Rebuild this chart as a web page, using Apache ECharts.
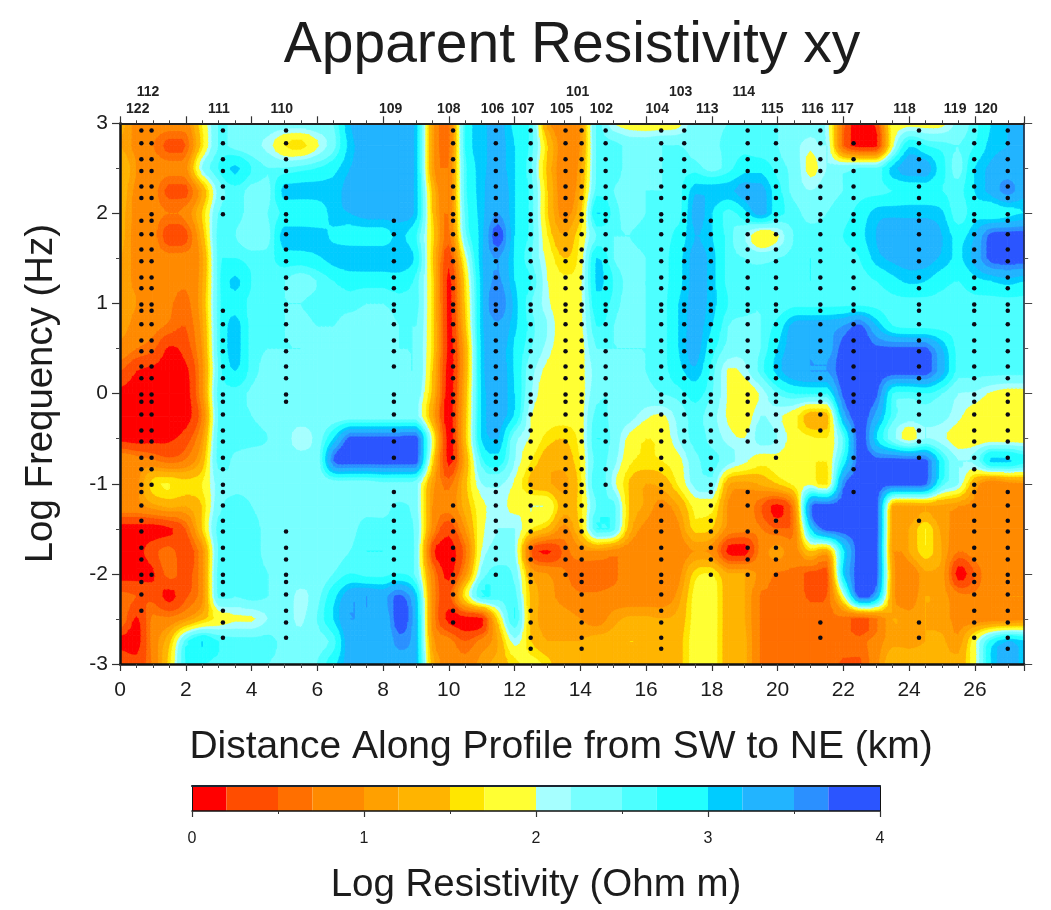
<!DOCTYPE html>
<html>
<head>
<meta charset="utf-8">
<style>html,body{margin:0;padding:0;background:#fff}#c{width:1051px;height:910px}</style>
<script src="https://cdn.jsdelivr.net/npm/echarts@6/dist/echarts.min.js"></script>
</head>
<body>
<div id="c"></div>
<script>
const chartTitle = 'Apparent Resistivity xy';
const xAxisTitle = 'Distance Along Profile from SW to NE (km)';
const yAxisTitle = 'Log Frequency (Hz)';
const barTitle = 'Log Resistivity (Ohm m)';

const kmGrid = [0,.5,1,1.5,2,2.5,3,3.5,4,4.5,5,5.5,6,6.5,7,7.5,8,8.5,9,9.5,10,10.5,11,11.5,12,12.5,13,13.5,14,14.5,15,15.5,16,16.5,17,17.5,18,18.5,19,19.5,20,20.5,21,21.5,22,22.5,23,23.5,24,24.5,25,25.5,26,26.5,27,27.5];
const freqGrid = [3,2.75,2.5,2.25,2,1.75,1.5,1.25,1,.75,.5,.25,0,-.25,-.5,-.75,-1,-1.25,-1.5,-1.75,-2,-2.25,-2.5,-2.75,-3];

const rowP300 = [1.3,.9,.9,.85,.85,1.7,2.5,2.5,2.4,2.4, 2.35,2.35,2.4,2.5,3.2,3.3,3.3,3.3,3.1,1.1, .6,2.7,3.1,3.3,2.9,2.6,1.1,.9,1.0,2.5, 2.0,1.85,1.8,1.8,1.9,2.4,2.4,2.5,2.5,2.5, 2.5,2.5,2.4,2.1,.6,.05,.3,1.85,1.85,1.85, 1.9,2.3,2.6,3.0,3.2,3.3];
const rowP275 = [1.2,.9,.7,.4,.5,1.6,2.5,2.4,2.3,2.1, 1.7,1.6,1.95,2.4,3.1,3.3,3.3,3.3,3.1,1.1, .6,2.7,3.1,3.3,3.0,2.6,1.5,.8,1.0,2.5, 2.6,2.4,2.4,2.5,2.5,2.4,2.4,2.6,2.6,2.5, 2.5,2.3,2.05,2.2,.5,.05,.1,1.9,2.95,2.7, 2.6,2.5,2.7,3.1,3.2,3.2];
const rowP250 = [1.5,1.0,.9,.8,.9,2.2,2.7,3.05,2.7,2.5, 2.5,2.6,2.7,2.9,3.2,3.3,3.3,3.3,3.1,1.1, .7,2.6,3.1,3.3,3.0,2.5,1.4,.8,1.1,2.5, 2.6,2.4,2.4,2.5,2.6,2.6,2.4,2.6,2.9,2.9, 2.6,2.4,1.9,2.2,2.4,2.5,2.5,3.1,3.35,3.35, 2.8,2.4,3.0,3.25,3.3,3.25];
const rowP225 = [1.4,.9,.8,.4,.4,1.2,2.3,2.6,2.4,2.4, 3.1,3.1,3.1,3.1,3.3,3.3,3.3,3.3,3.1,1.4, .7,2.6,3.1,3.45,3.0,2.6,1.5,.8,1.2,2.6, 2.5,2.4,2.5,2.5,2.6,3.15,3.15,3.15,3.3,3.3, 2.8,2.4,2.2,2.4,2.5,2.6,2.6,2.7,2.8,2.8, 2.7,2.6,3.0,3.3,3.6,3.3];
const rowP200 = [1.3,.9,.8,.7,.8,1.5,2.5,2.6,2.4,2.5, 2.75,2.75,2.8,3.1,3.2,3.3,3.3,3.3,3.1,1.5, .7,2.5,3.1,3.5,3.0,2.6,1.5,.9,1.4,3.0, 2.6,2.4,2.5,2.6,2.6,3.3,3.0,2.6,2.9,3.3, 2.8,2.6,2.4,2.5,2.6,2.8,3.1,3.15,3.15,3.15, 3.05,2.5,2.9,2.8,2.9,3.0];
const rowP175 = [1.3,.85,.8,.3,.4,1.3,2.6,2.5,2.3,2.4, 3.15,3.15,3.1,2.95,2.85,2.85,2.85,3.05,2.7,1.6, .6,2.4,3.1,3.85,3.0,2.6,1.7,1.2,1.7,2.5, 2.5,2.5,2.6,2.6,2.8,3.2,3.0,2.6,2.2,1.7, 1.95,2.5,2.6,2.6,2.7,2.9,3.2,3.3,3.3,3.3, 3.2,2.9,3.2,3.8,3.85,3.85];
const rowP150 = [1.2,.9,.85,.8,.8,1.1,2.6,2.7,2.6,2.6, 2.85,2.85,2.95,3.1,3.19,3.19,3.19,3.19,2.9,1.5, .3,1.9,3.15,3.5,2.95,2.5,1.9,1.5,1.8,3.0, 2.5,2.4,2.5,2.6,2.9,3.3,3.1,2.6,2.5,2.4, 2.5,2.6,2.7,2.6,2.6,2.7,3.1,3.25,3.3,3.3, 3.15,2.95,3.3,3.8,3.85,3.85];
const rowP125 = [1.1,.95,.9,.85,.75,1.15,2.6,3.05,2.7,2.6, 2.5,2.35,2.5,2.7,2.8,2.8,2.8,2.85,2.6,1.6, .1,1.6,3.1,3.55,3.0,2.7,2.0,1.75,1.9,3.05, 2.7,2.4,2.5,2.6,2.9,3.3,3.1,2.6,2.5,2.6, 2.6,2.6,2.7,2.6,2.6,2.6,2.7,2.9,3.05,3.0, 2.8,2.7,2.9,3.0,3.1,3.0];
const rowP100 = [1.1,1.0,.95,.75,.6,1.2,2.6,2.9,2.6,2.5, 2.5,2.5,2.6,2.6,2.6,2.5,2.5,2.6,2.6,1.6, .1,1.5,3.1,3.7,3.1,2.5,2.05,1.8,1.9,2.9, 2.6,2.4,2.5,2.6,3.0,3.3,3.1,2.7,2.6,2.5, 2.5,2.6,2.6,2.6,2.6,2.6,2.6,2.6,2.6,2.6, 2.6,2.6,2.6,2.6,2.6,2.6];
const rowP075 = [1.1,.9,.8,.65,.5,1.1,2.6,3.1,2.6,2.5, 2.5,2.4,2.5,2.5,2.35,2.35,2.4,2.5,2.5,1.6, .1,1.4,3.1,3.45,3.05,2.6,2.2,1.8,1.9,2.7, 2.5,2.4,2.5,2.6,3.0,3.3,3.0,2.5,2.4,2.5, 2.8,3.3,3.35,3.35,3.5,3.75,3.2,2.7,2.6,2.6, 2.6,2.6,2.6,2.6,2.6,2.6];
const rowP050 = [.9,.7,.55,.15,.35,1.0,2.6,3.1,2.6,2.5, 2.5,2.5,2.4,2.35,2.3,2.3,2.4,2.5,2.45,1.6, .1,1.2,3.05,3.35,2.95,2.5,2.1,1.8,1.85,2.5, 2.5,2.5,2.5,2.6,3.0,3.3,2.8,2.4,2.3,2.5, 3.0,3.35,3.4,3.35,3.8,3.85,3.75,3.75,3.75,3.75, 3.2,2.6,2.6,2.6,2.6,2.6];
const rowP025 = [.5,.2,.1,.05,.1,.9,2.5,3.0,2.6,2.4, 2.3,2.4,2.3,2.3,2.3,2.3,2.3,2.3,2.5,1.5, .05,1.2,3.05,3.35,2.95,2.3,1.9,1.8,1.9,2.3, 2.45,2.4,2.5,2.6,2.9,3.15,2.6,1.95,2.1,2.6, 3.1,3.4,3.5,3.5,3.85,3.85,3.85,3.85,3.85,3.85, 3.3,2.6,2.6,2.6,2.6,2.6];
const rowP000 = [.1,.05,.05,.05,.05,.9,2.6,2.6,2.45,2.35, 2.3,2.3,2.3,2.3,2.3,2.3,2.3,2.3,2.4,1.4, .05,1.3,3.0,3.3,3.0,2.2,1.8,1.75,1.85,2.4, 2.5,2.4,2.4,2.5,2.6,2.8,2.5,1.95,1.75,2.05, 2.5,2.7,2.7,2.7,3.75,3.85,3.75,2.7,2.6,2.7, 2.5,2.2,2.15,1.95,1.85,1.85];
const rowM025 = [.05,.05,.05,.05,.05,.7,2.5,2.6,2.5,2.35, 2.3,2.3,2.3,2.3,2.3,2.3,2.3,2.3,2.3,1.2, .05,1.35,3.0,3.3,2.95,2.0,1.85,1.8,1.85,2.6, 2.4,2.3,2.05,1.95,2.3,2.6,2.3,1.95,1.8,2.2, 2.05,1.8,1.3,1.35,3.3,3.85,3.4,2.6,2.35,2.4, 2.3,2.05,1.85,1.8,1.8,1.8];
const rowM050 = [.1,.05,.1,.15,.35,1.0,2.6,2.65,2.6,2.5, 2.3,2.1,2.3,3.0,3.8,3.8,3.8,3.8,3.85,1.9, .05,1.4,3.0,3.2,2.3,1.95,1.6,1.5,1.8,2.7, 2.4,1.9,1.7,1.8,2.2,2.6,2.4,2.1,2.0,2.3, 2.2,1.85,1.75,1.7,2.5,3.85,3.0,2.3,1.85,2.2, 2.05,1.85,1.8,1.8,1.8,1.8];
const rowM075 = [1.0,.85,.75,.6,.75,1.3,2.6,2.4,2.3,2.3, 2.3,2.3,2.3,3.7,3.85,3.85,3.85,3.85,3.85,1.6, .1,1.2,2.6,2.85,2.2,1.7,1.3,1.3,1.7,2.6, 2.3,1.75,1.65,1.7,1.9,2.4,2.6,2.3,2.05,1.8, 1.85,1.75,1.75,1.7,2.8,3.85,3.8,3.85,3.85,3.8, 2.8,2.2,2.3,3.05,3.05,2.8];
const rowM100 = [1.0,.9,1.6,1.7,1.6,1.7,2.3,2.4,2.4,2.3, 2.3,2.3,2.3,2.3,2.3,2.3,2.4,2.4,2.3,1.1, .6,1.4,2.2,2.25,1.95,1.4,1.25,1.1,1.6,2.7, 2.1,1.45,1.2,1.3,1.75,2.3,2.4,1.25,1.1,1.25, 1.5,1.75,1.9,1.6,3.6,3.85,3.85,3.85,3.85,3.75, 2.6,2.2,1.2,.7,.85,.95];
const rowM125 = [.9,.9,1.1,1.25,1.2,1.5,2.4,2.6,2.5,2.35, 2.3,2.3,2.3,2.3,2.4,2.4,2.4,2.55,2.3,1.0, .8,1.3,1.9,2.1,1.9,2.0,1.95,1.3,1.6,2.5, 2.6,1.45,1.15,.9,1.2,1.8,1.8,.95,.9,.5, .1,.8,3.6,3.85,3.85,3.85,3.85,1.2,1.1,1.2, 1.1,1.0,.9,.9,.9,.9];
const rowM150 = [.05,.05,.05,.15,.5,1.5,2.6,2.6,2.6,2.4, 2.3,2.3,2.3,2.3,2.4,2.6,2.6,2.6,2.4,.9, .3,1.0,1.9,2.2,2.2,1.7,1.4,.9,1.5,2.7, 2.6,1.3,.9,.8,.95,1.6,1.5,.9,.8,.7, .5,.7,3.0,3.85,3.85,3.85,3.85,1.1,1.2,1.7, 1.1,.95,.85,.9,.9,.9];
const rowM175 = [.05,.05,.4,.6,.3,.9,2.5,2.6,2.6,2.4, 2.3,2.3,2.3,2.4,2.5,2.7,2.7,2.6,2.4,.3, .05,.6,2.0,2.3,2.2,.5,.15,.55,.9,1.0, .85,.8,.75,.75,.85,1.0,.9,.1,.05,.8, 1.1,.85,1.5,1.2,2.9,3.85,3.8,1.0,1.2,1.65, 1.2,.7,.85,.9,.9,.9];
const rowM200 = [.05,.05,.15,.6,.4,.9,2.6,2.6,2.6,2.5, 2.4,2.4,2.3,2.5,2.7,2.6,2.6,2.7,2.4,.8, .1,.9,2.3,2.6,2.4,1.2,1.0,.75,.5,.5, .65,.8,.8,.75,.9,1.6,1.7,1.2,1.2,.9, .65,.65,.4,.4,3.0,3.85,3.8,1.15,.75,1.15, 1.1,.05,.5,.9,.8,.85];
const rowM225 = [.6,.5,.4,.1,.45,.9,2.55,2.5,2.6,2.5, 2.4,2.1,2.4,2.9,3.4,3.5,3.4,3.75,3.1,.9, .4,1.7,2.7,2.6,2.6,1.4,1.1,.9,.75,.75, .8,.8,.8,.8,1.1,1.8,1.85,1.3,1.2,.65, .65,.65,.45,.5,1.9,3.8,3.3,1.1,.8,1.2, 1.1,.8,.75,.9,1.0,1.0];
const rowM250 = [.75,.15,.75,.75,1.0,1.4,1.8,1.95,1.95,2.2, 2.3,2.15,2.5,3.0,3.5,3.4,3.2,3.85,3.2,.9, .1,.05,.1,1.6,2.7,1.4,1.1,1.1,1.0,.85, 1.1,1.25,1.25,1.2,1.3,1.8,1.85,1.3,1.2,.65, .65,.65,.65,.65,.6,.4,.65,1.2,1.1,1.2, 1.1,.9,.8,.8,.8,.9];
const rowM275 = [.1,.05,.8,1.4,2.6,3.0,2.7,2.6,2.6,2.6, 2.4,2.3,2.4,2.6,3.4,3.4,3.2,3.6,3.2,1.1, .8,.5,.8,1.2,2.1,1.5,1.2,1.2,1.2,1.3, 1.3,1.5,1.45,1.3,1.4,1.85,1.85,1.3,1.25,.65, .65,.65,.65,.65,.65,.6,.85,1.15,1.15,1.2, 1.25,1.05,1.9,2.8,3.2,3.05];
const rowM300 = [.5,.3,.75,1.6,2.7,2.7,2.6,2.6,2.6,2.5, 2.4,2.4,2.5,2.9,3.35,3.35,3.35,3.35,3.2,1.3, .9,.8,1.1,1.3,1.6,1.8,1.6,1.2,1.2,1.2, 1.2,1.3,1.3,1.3,1.4,1.85,1.85,1.3,1.25,.65, .65,.65,.65,.65,.45,.45,.9,1.4,1.3,1.3, 1.3,1.3,1.9,3.0,3.35,3.1];
const resistivityRows = [rowP300,rowP275,rowP250,rowP225,rowP200,rowP175,rowP150,rowP125,rowP100,rowP075,rowP050,rowP025,rowP000,rowM025,rowM050,rowM075,rowM100,rowM125,rowM150,rowM175,rowM200,rowM225,rowM250,rowM275,rowM300];

const bandEdges = [0,.2,.5,.7,1,1.2,1.5,1.7,2,2.2,2.5,2.7,3,3.2,3.5,3.7,4];
const bandColors = ['#ff0000','#ff4d00','#ff6f00','#ff8a00','#ffa000','#ffb400','#ffe600','#ffff33','#a6ffff','#77ffff','#4dffff','#22ffff','#00ccff','#22b4ff','#2b90ff','#2b55ff'];

const measuredFreqs = [2.92,2.78,2.60,2.47,2.30,2.17,1.99,1.92,1.77,1.60,1.47,1.29,1.17,.99,.92,.77,.59,.47,.30,.17,-.01,-.09,-.23,-.41,-.53,-.71,-.84,-1.01,-1.09,-1.24,-1.41,-1.53,-1.71,-1.84,-2.01,-2.09,-2.23,-2.41,-2.54,-2.71,-2.83];
const stationNames = ['122','112','111','110','109','108','106','107','105','101','102','104','103','113','114','115','116','117','118','119','120'];
const stationKm = [.65,.96,3.13,5.05,8.33,10.13,11.43,12.49,13.55,14.04,14.77,16.46,17.16,17.97,19.09,19.95,21.3,22.31,24.3,25.98,27.0];
const stationFreqRanges = [[[0,5],[7,37]],[[0,27],[34,34]],[[0,6],[14,39]],[[0,21],[31,39]],[[7,18],[20,25],[28,35]],[[0,25],[29,38]],[[0,34]],[[0,35],[37,40]],[[0,34]],[[0,40]],[[0,24],[26,27]],[[0,40]],[[0,24]],[[7,34]],[[0,24],[28,29],[31,34]],[[0,25],[30,34]],[[0,17],[19,23],[38,39]],[[1,21],[23,23],[25,26],[28,28]],[[0,25],[30,30],[38,39]],[[0,39]],[[0,25],[28,40]]];
const labelKm = [.54,.85,3.01,4.92,8.23,10.0,11.33,12.25,13.43,13.92,14.64,16.34,17.05,17.86,18.97,19.84,21.06,21.97,23.86,25.4,26.34];
const labelUpper = ['112','101','103','114'];

resistivityRows.forEach((r,i)=>{ if(r.length!==kmGrid.length) throw new Error('row '+i+' has '+r.length); });

const nCols=kmGrid.length-1, nRows=freqGrid.length-1;
const cells = [];
for (let j=0;j<nRows;j++) for (let i=0;i<nCols;i++) {
  cells.push([kmGrid[i],kmGrid[i+1],freqGrid[j],freqGrid[j+1],
    resistivityRows[j][i],resistivityRows[j][i+1],resistivityRows[j+1][i],resistivityRows[j+1][i+1]]);
}
/* Contour renderer: smooth, non-overshooting surface between the read node values, then band clipping. */
const SUB=4;
function cr(p0,p1,p2,p3,t){
  const v=.5*((2*p1)+(-p0+p2)*t+(2*p0-5*p1+4*p2-p3)*t*t+(-p0+3*p1-3*p2+p3)*t*t*t);
  return Math.min(Math.max(p1,p2),Math.max(Math.min(p1,p2),v));
}
const at=(j,i)=>resistivityRows[Math.max(0,Math.min(nRows,j))][Math.max(0,Math.min(nCols,i))];
function surface(j,i,v,u){
  const col=k=>cr(at(k,i-1),at(k,i),at(k,i+1),at(k,i+2),u);
  return cr(col(j-1),col(j),col(j+1),col(j+2),v);
}
function clipAt(poly, level, keepAbove){
  const out=[]; const n=poly.length;
  for(let k=0;k<n;k++){
    const a=poly[k], b=poly[(k+1)%n];
    const ia=keepAbove? a[2]>=level : a[2]<=level;
    const ib=keepAbove? b[2]>=level : b[2]<=level;
    if(ia) out.push(a);
    if(ia!==ib){ const t=(level-a[2])/(b[2]-a[2]); out.push([a[0]+t*(b[0]-a[0]),a[1]+t*(b[1]-a[1]),level]); }
  }
  return out;
}
function bandIndex(v){ for(let b=bandColors.length-1;b>=0;b--) if(v>=bandEdges[b]) return b; return 0; }
function renderCell(params, api){
  const idx=params.dataIndex, j=Math.floor(idx/nCols), i=idx%nCols;
  const x0=api.value(0),x1=api.value(1),y0=api.value(2),y1=api.value(3);
  const children=[];
  const add=(poly,b)=>{
    children.push({type:'polygon',silent:true,shape:{points:poly.map(p=>api.coord([p[0],p[1]]))},
      style:{fill:bandColors[b],stroke:bandColors[b],lineWidth:.8}});
  };
  const node=[];
  for(let r=0;r<=SUB;r++){ const line=[]; for(let c=0;c<=SUB;c++){
    line.push([x0+(x1-x0)*c/SUB,y0+(y1-y0)*r/SUB,surface(j,i,r/SUB,c/SUB)]);
  } node.push(line); }
  const all=[].concat(...node).map(n=>bandIndex(n[2]));
  if(Math.min(...all)===Math.max(...all)){
    add([node[0][0],node[0][SUB],node[SUB][SUB],node[SUB][0]],all[0]);
    return {type:'group',children};
  }
  for(let r=0;r<SUB;r++) for(let c=0;c<SUB;c++){
    const q=[node[r][c],node[r][c+1],node[r+1][c+1],node[r+1][c]];
    const bs=q.map(n=>bandIndex(n[2]));
    if(Math.min(...bs)===Math.max(...bs)){ add(q,bs[0]); continue; }
    for(const tri of [[q[0],q[1],q[2]],[q[0],q[2],q[3]]]){
      for(let b=0;b<bandColors.length;b++){
        let p=clipAt(tri,bandEdges[b],true);
        if(p.length>2) p=clipAt(p,bandEdges[b+1],false);
        if(p.length>2) add(p,b);
      }
    }
  }
  return {type:'group',children};
}
const dots=[];
stationKm.forEach((km,s)=>stationFreqRanges[s].forEach(([a,b])=>{
  for(let k=a;k<=b;k++) dots.push([km,measuredFreqs[k]]);
}));
const lowerLabels=[], upperLabels=[];
stationNames.forEach((n,s)=>{ (labelUpper.includes(n)?upperLabels:lowerLabels).push([labelKm[s],3,n]); });
const barPieces=bandColors.map((c,b)=>[bandEdges[b],bandEdges[b+1],b]);

const FONT='"Liberation Sans", Arial, sans-serif';
const INK='#1c1c1c';
const labelSeries=(data,dist)=>({type:'scatter',xAxisIndex:0,yAxisIndex:0,data,symbolSize:0,silent:true,z:6,clip:false,
  itemStyle:{opacity:1},
  label:{show:true,position:'top',distance:dist,formatter:p=>p.value[2],fontFamily:FONT,fontSize:14,fontWeight:'bold',color:'#222'}});

const chart=echarts.init(document.getElementById('c'),null,{renderer:'canvas'});
chart.setOption({
  animation:false,
  backgroundColor:'#fff',
  title:{text:chartTitle,left:567,top:13,textAlign:'center',textStyle:{fontFamily:FONT,fontSize:57,fontWeight:'normal',color:INK}},
  grid:[{left:120,top:123.3,width:904.2,height:540.7},{left:192,top:786,width:688,height:25}],
  xAxis:[
    {type:'value',gridIndex:0,min:0,max:27.5,interval:2,position:'bottom',z:5,
     axisLine:{show:true,onZero:false,lineStyle:{color:'#111',width:2.5}},
     axisTick:{show:true,length:7,lineStyle:{color:'#333',width:1.2}},
     minorTick:{show:true,splitNumber:4,length:4,lineStyle:{color:'#444',width:1}},
     splitLine:{show:false},
     axisLabel:{fontFamily:FONT,fontSize:21,color:INK,margin:16,showMaxLabel:false},
     name:xAxisTitle,nameLocation:'middle',nameGap:64,nameTextStyle:{fontFamily:FONT,fontSize:39,color:INK,padding:[0,22,0,0]}},
    {type:'value',gridIndex:0,min:0,max:27.5,interval:2,position:'top',z:5,
     axisLine:{show:true,onZero:false,lineStyle:{color:'#222',width:2}},
     axisTick:{show:true,length:7,lineStyle:{color:'#333',width:1.2}},
     minorTick:{show:true,splitNumber:4,length:3,lineStyle:{color:'#444',width:1}},
     splitLine:{show:false},axisLabel:{show:false}},
    {type:'value',gridIndex:1,min:0,max:4,interval:1,position:'bottom',z:5,
     axisLine:{show:true,onZero:false,lineStyle:{color:'#111',width:1.5}},
     axisTick:{show:true,length:6,lineStyle:{color:'#333',width:1.2}},
     minorTick:{show:true,splitNumber:2,length:3,lineStyle:{color:'#333',width:1}},
     splitLine:{show:false},
     axisLabel:{fontFamily:FONT,fontSize:16,color:INK,margin:20},
     name:barTitle,nameLocation:'middle',nameGap:55,nameTextStyle:{fontFamily:FONT,fontSize:38.5,color:INK}},
    {type:'value',gridIndex:1,min:0,max:4,position:'top',z:5,
     axisLine:{show:true,onZero:false,lineStyle:{color:'#1a2430',width:2}},axisTick:{show:false},splitLine:{show:false},axisLabel:{show:false}}
  ],
  yAxis:[
    {type:'value',gridIndex:0,min:-3,max:3,interval:1,position:'left',z:5,
     axisLine:{show:true,onZero:false,lineStyle:{color:'#111',width:2.5}},
     axisTick:{show:true,length:8,lineStyle:{color:'#333',width:1.2}},
     minorTick:{show:true,splitNumber:2,length:4,lineStyle:{color:'#444',width:1}},
     splitLine:{show:false},
     axisLabel:{fontFamily:FONT,fontSize:21,color:INK,margin:12},
     name:yAxisTitle,nameLocation:'middle',nameGap:60,nameRotate:90,nameTextStyle:{fontFamily:FONT,fontSize:38.4,color:INK}},
    {type:'value',gridIndex:0,min:-3,max:3,interval:1,position:'right',z:5,
     axisLine:{show:true,onZero:false,lineStyle:{color:'#223',width:1.5}},
     axisTick:{show:true,length:8,lineStyle:{color:'#444',width:1}},
     minorTick:{show:true,splitNumber:2,length:4,lineStyle:{color:'#555',width:1}},
     splitLine:{show:false},axisLabel:{show:false}},
    {type:'value',gridIndex:1,min:0,max:1,position:'left',z:5,
     axisLine:{show:true,onZero:false,lineStyle:{color:'#111',width:1}},axisTick:{show:false},splitLine:{show:false},axisLabel:{show:false}},
    {type:'value',gridIndex:1,min:0,max:1,position:'right',z:5,
     axisLine:{show:true,onZero:false,lineStyle:{color:'#111',width:1}},axisTick:{show:false},splitLine:{show:false},axisLabel:{show:false}}
  ],
  series:[
    {type:'custom',name:'Resistivity',coordinateSystem:'cartesian2d',xAxisIndex:0,yAxisIndex:0,z:1,silent:true,
     progressive:0,clip:true,data:cells,encode:{x:[0,1],y:[2,3]},renderItem:renderCell},
    {type:'scatter',name:'Stations',xAxisIndex:0,yAxisIndex:0,z:4,silent:true,symbol:'circle',symbolSize:4.5,
     itemStyle:{color:'#0a0a14',opacity:1},data:dots,progressive:0,large:false},
    labelSeries(lowerLabels,7),
    labelSeries(upperLabels,24),
    {type:'custom',name:'Colour scale',coordinateSystem:'cartesian2d',xAxisIndex:2,yAxisIndex:2,z:1,silent:true,progressive:0,
     data:barPieces,encode:{x:[0,1]},
     renderItem:(p,api)=>{
       const a=api.coord([api.value(0),1]), b=api.coord([api.value(1),0]);
       return {type:'rect',shape:{x:a[0],y:a[1],width:b[0]-a[0],height:b[1]-a[1]},style:{fill:bandColors[api.value(2)]}};
     }}
  ]
});
</script>
</body>
</html>
